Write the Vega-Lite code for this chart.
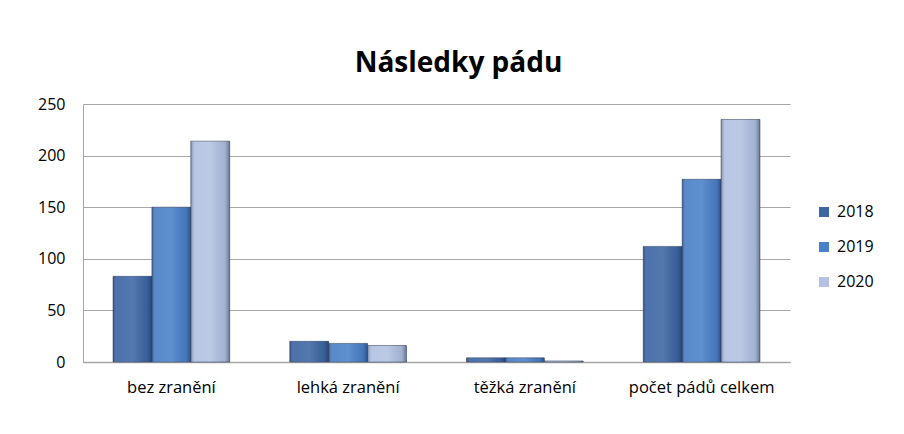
{
  "$schema": "https://vega.github.io/schema/vega-lite/v6.json",
  "width": 707,
  "height": 258,
  "autosize": {"type": "none"},
  "padding": {"left": 83, "top": 104, "right": 114, "bottom": 72},
  "background": "white",
  "title": {
    "text": "Následky pádu",
    "font": "Open Sans",
    "fontSize": 28,
    "fontWeight": "bold",
    "color": "#000000",
    "anchor": "middle",
    "dx": 22,
    "offset": 18
  },
  "data": {
    "values": [
      {"kategorie": "bez zranění", "rok": "2018", "pocet": 83},
      {"kategorie": "bez zranění", "rok": "2019", "pocet": 150},
      {"kategorie": "bez zranění", "rok": "2020", "pocet": 214},
      {"kategorie": "lehká zranění", "rok": "2018", "pocet": 20},
      {"kategorie": "lehká zranění", "rok": "2019", "pocet": 18},
      {"kategorie": "lehká zranění", "rok": "2020", "pocet": 16},
      {"kategorie": "těžká zranění", "rok": "2018", "pocet": 4},
      {"kategorie": "těžká zranění", "rok": "2019", "pocet": 4},
      {"kategorie": "těžká zranění", "rok": "2020", "pocet": 1},
      {"kategorie": "počet pádů celkem", "rok": "2018", "pocet": 112},
      {"kategorie": "počet pádů celkem", "rok": "2019", "pocet": 177},
      {"kategorie": "počet pádů celkem", "rok": "2020", "pocet": 235}
    ]
  },
  "encoding": {
    "x": {
      "field": "kategorie",
      "type": "nominal",
      "sort": ["bez zranění", "lehká zranění", "těžká zranění", "počet pádů celkem"],
      "scale": {"paddingInner": 0.34, "paddingOuter": 0.17},
      "axis": {
        "title": null,
        "labelAngle": 0,
        "labelFont": "Open Sans",
        "labelFontSize": 16.5,
        "labelColor": "#000000",
        "labelPadding": 17,
        "ticks": false,
        "domainColor": "#a6a6a6",
        "domainWidth": 1.5
      }
    },
    "xOffset": {
      "field": "rok",
      "type": "nominal",
      "scale": {"paddingInner": 0, "paddingOuter": 0}
    },
    "y": {
      "field": "pocet",
      "type": "quantitative",
      "scale": {"domain": [0, 250], "nice": false},
      "axis": {
        "title": null,
        "values": [0, 50, 100, 150, 200, 250],
        "labelFont": "Open Sans",
        "labelFontSize": 16,
        "labelColor": "#000000",
        "labelPadding": 18,
        "ticks": false,
        "domain": true,
        "domainColor": "#a6a6a6",
        "gridColor": "#a6a6a6",
        "gridWidth": 1.2
      }
    }
  },
  "layer": [
    {
      "mark": {"type": "bar", "stroke": "#3a4a66", "strokeWidth": 1, "strokeOpacity": 0.6},
      "encoding": {
        "color": {
          "field": "rok",
          "type": "nominal",
          "scale": {"domain": ["2018", "2019", "2020"], "range": ["#3d66a3", "#4a80c8", "#b3c2e2"]},
          "legend": {
            "title": null,
            "orient": "none",
            "legendX": 733,
            "legendY": 100,
            "symbolType": "square",
            "symbolSize": 100,
            "symbolStrokeWidth": 0,
            "labelFont": "Open Sans",
            "labelFontSize": 16,
            "labelColor": "#000000",
            "labelOffset": 5,
            "rowPadding": 19
          }
        }
      }
    },
    {
      "mark": {
        "type": "bar",
        "color": {
          "gradient": "linear",
          "x1": 0, "y1": 0, "x2": 1, "y2": 0,
          "stops": [
            {"offset": 0, "color": "rgba(20,30,60,0.35)"},
            {"offset": 0.12, "color": "rgba(255,255,255,0.08)"},
            {"offset": 0.5, "color": "rgba(255,255,255,0.12)"},
            {"offset": 0.88, "color": "rgba(20,30,60,0.1)"},
            {"offset": 1, "color": "rgba(20,30,60,0.45)"}
          ]
        }
      },
      "encoding": {}
    }
  ],
  "config": {
    "view": {"stroke": null}
  }
}
